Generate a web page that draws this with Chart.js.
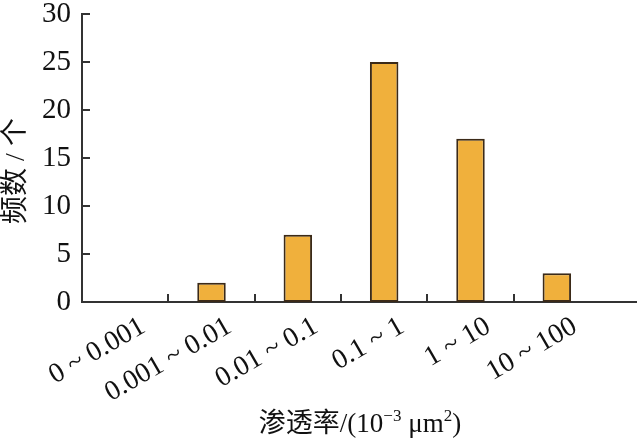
<!DOCTYPE html>
<html lang="zh">
<head>
    <meta charset="UTF-8">
    <title>渗透率频数分布</title>
    <script src="https://cdn.jsdelivr.net/npm/chart.js"></script>
    <style>
        html, body {
            margin: 0;
            padding: 0;
            background-color: #fff;
        }
        #wrap {
            width: 640px;
            height: 443px;
        }
    </style>
</head>
<body>
    <div id="wrap">
        <canvas id="histChart" width="640" height="443"></canvas>
    </div>
    <script>
        // 数据
        const categories = ['0 ~ 0.001', '0.001 ~ 0.01', '0.01 ~ 0.1', '0.1 ~ 1', '1 ~ 10', '10 ~ 100'];
        const counts = [0, 2, 7, 25, 17, 3];
        const yTicks = [0, 5, 10, 15, 20, 25, 30];

        const axisColor = '#333';
        const serif = '"Liberation Serif", "DejaVu Serif", serif';
        const cjkSerif = '"Liberation Serif", "Noto Sans CJK SC", serif';

        // 横轴标题（带上标）
        const titleParts = [
            { text: '渗透率/(10', size: 27, rise: 0 },
            { text: '−3', size: 17, rise: 11 },
            { text: ' μm', size: 27, rise: 0 },
            { text: '2', size: 17, rise: 11 },
            { text: ')', size: 27, rise: 0 }
        ];
        const yTitle = '频数 / 个';

        // 向内的刻度线 + 延长的横轴 + 坐标轴标题
        const innerTicks = {
            id: 'innerTicks',
            afterDraw(chart) {
                const c = chart.ctx;
                const area = chart.chartArea;
                const xs = chart.scales.x;
                const ys = chart.scales.y;
                c.save();
                c.strokeStyle = axisColor;
                c.lineWidth = 2;
                c.beginPath();
                yTicks.forEach(v => {
                    const y = Math.round(ys.getPixelForValue(v));
                    c.moveTo(area.left, y);
                    c.lineTo(area.left + 8, y);
                });
                for (let i = 1; i < categories.length; i++) {
                    const x = Math.round((xs.getPixelForValue(i - 1) + xs.getPixelForValue(i)) / 2);
                    c.moveTo(x, area.bottom);
                    c.lineTo(x, area.bottom - 8);
                }
                c.moveTo(area.right, area.bottom);
                c.lineTo(637, area.bottom);
                c.stroke();

                // x title
                c.fillStyle = '#111';
                c.textBaseline = 'alphabetic';
                c.textAlign = 'left';
                let total = 0;
                titleParts.forEach(p => {
                    c.font = p.size + 'px ' + cjkSerif;
                    p.w = c.measureText(p.text).width;
                    total += p.w;
                });
                let x = 360 - total / 2;
                const base = 432;
                titleParts.forEach(p => {
                    c.font = p.size + 'px ' + cjkSerif;
                    c.fillText(p.text, x, base - p.rise);
                    x += p.w;
                });

                // y title
                c.translate(17, 171);
                c.rotate(-Math.PI / 2);
                c.textAlign = 'center';
                c.textBaseline = 'middle';
                c.font = '28px ' + cjkSerif;
                c.fillText(yTitle, 0, 0);
                c.restore();
            }
        };

        const ctx = document.getElementById('histChart').getContext('2d');
        new Chart(ctx, {
            type: 'bar',
            data: {
                labels: categories,
                datasets: [{
                    data: counts,
                    backgroundColor: '#F0B03C',
                    borderColor: '#3b2a18',
                    borderWidth: 2,
                    borderSkipped: false,
                    barPercentage: 0.33,
                    categoryPercentage: 1
                }]
            },
            options: {
                responsive: false,
                animation: false,
                layout: {
                    padding: { top: 14, right: 40, left: 4, bottom: 6 }
                },
                plugins: {
                    legend: { display: false },
                    tooltip: { enabled: false }
                },
                scales: {
                    x: {
                        grid: { display: false, offset: true },
                        border: { display: true, color: axisColor, width: 2 },
                        ticks: {
                            color: '#111',
                            font: { family: serif, size: 28 },
                            minRotation: 30,
                            maxRotation: 30,
                            labelOffset: 18,
                            padding: 0
                        },
                        afterFit(scale) {
                            scale.height = 443 - 302 - 6;
                            scale.paddingLeft = 0;
                            scale.paddingRight = 0;
                        }
                    },
                    y: {
                        min: 0,
                        max: 30,
                        grid: { display: false },
                        border: { display: true, color: axisColor, width: 2 },
                        afterBuildTicks(scale) {
                            scale.ticks = yTicks.map(v => ({ value: v }));
                        },
                        ticks: {
                            color: '#111',
                            font: { family: serif, size: 29 },
                            padding: 3
                        },
                        afterFit(scale) {
                            scale.width = 82 - 4;
                            scale.paddingTop = 0;
                            scale.paddingBottom = 0;
                        }
                    }
                }
            },
            plugins: [innerTicks]
        });
    </script>
</body>
</html>
